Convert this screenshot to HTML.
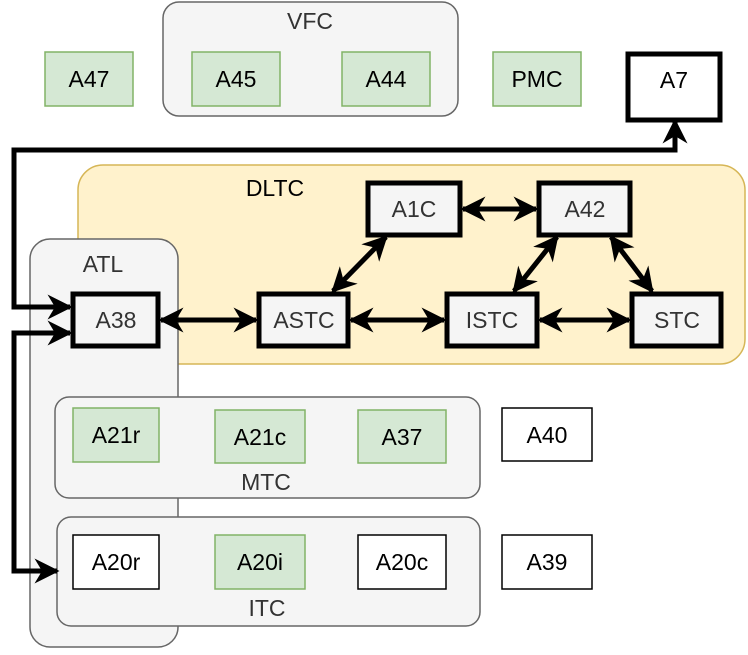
<!DOCTYPE html>
<html><head><style>body{margin:0;background:#fff}svg{display:block}text{font-family:"Liberation Sans",sans-serif;font-size:23px;text-anchor:middle;dominant-baseline:central}</style></head>
<body>
<svg width="748" height="655" viewBox="0 0 748 655">
<defs>
<marker id="a" viewBox="0 0 10 10" refX="9" refY="5" markerWidth="5" markerHeight="5" orient="auto-start-reverse" markerUnits="strokeWidth"><path d="M0,0 L10,5 L0,10 L3,5 Z" fill="#000"/></marker>
</defs>
<rect x="163" y="2" width="295" height="114" rx="16" fill="#f5f5f5" stroke="#666" stroke-width="1.5"/>
<text x="310" y="21" fill="#333">VFC</text>
<rect x="78" y="165" width="667" height="199" rx="25" fill="#fff2cc" stroke="#d6b656" stroke-width="1.5"/>
<text x="275" y="188" fill="#000">DLTC</text>
<rect x="30" y="239" width="148" height="408" rx="20" fill="#f5f5f5" stroke="#666" stroke-width="1.5"/>
<text x="103" y="264" fill="#333">ATL</text>
<rect x="55" y="397" width="425" height="101" rx="14" fill="#f5f5f5" stroke="#666" stroke-width="1.5"/>
<text x="266" y="482" fill="#333">MTC</text>
<rect x="57" y="517" width="423" height="109" rx="14" fill="#f5f5f5" stroke="#666" stroke-width="1.5"/>
<text x="267" y="608" fill="#333">ITC</text>
<g fill="#d5e8d4" stroke="#82b366" stroke-width="1.5">
<rect x="45" y="52" width="88" height="54"/><rect x="192" y="52" width="88" height="54"/><rect x="342" y="52" width="88" height="54"/><rect x="493" y="52" width="88" height="54"/>
<rect x="73" y="408" width="86" height="54"/><rect x="215" y="410" width="90" height="53"/><rect x="358" y="410" width="88" height="53"/>
<rect x="215" y="535" width="90" height="54"/>
</g>
<g fill="#fff" stroke="#000" stroke-width="1.5">
<rect x="502" y="408" width="90" height="53"/><rect x="73" y="535" width="86" height="54"/><rect x="358" y="535" width="88" height="54"/><rect x="502" y="535" width="90" height="54"/>
</g>
<g fill="#f5f5f5" stroke="#000" stroke-width="5">
<rect x="628" y="54" width="92" height="66" fill="#fff"/>
<rect x="73" y="294" width="85" height="52"/><rect x="259" y="294" width="89" height="52"/>
<rect x="368" y="183" width="92" height="52"/><rect x="539" y="183" width="91" height="52"/>
<rect x="447" y="294" width="90" height="52"/><rect x="632" y="294" width="89" height="52"/>
</g>
<g fill="#000">
<text x="89" y="79">A47</text><text x="236" y="79">A45</text><text x="386" y="79">A44</text><text x="537" y="79">PMC</text>
<text x="674" y="80">A7</text>
<text x="116" y="435">A21r</text><text x="260" y="437">A21c</text><text x="402" y="437">A37</text><text x="547" y="435">A40</text>
<text x="116" y="562">A20r</text><text x="260" y="562">A20i</text><text x="402" y="562">A20c</text><text x="547" y="562">A39</text>
</g>
<g fill="#333">
<text x="116" y="320">A38</text><text x="304" y="320">ASTC</text><text x="414" y="209">A1C</text><text x="585" y="209">A42</text><text x="492" y="320">ISTC</text><text x="677" y="320">STC</text>
</g>
<g stroke="#000" stroke-width="5" fill="none" stroke-linejoin="miter">
<path d="M675,121 V150 H14 V307 H70" marker-start="url(#a)" marker-end="url(#a)"/>
<path d="M57,571 H14 V333 H70" marker-start="url(#a)" marker-end="url(#a)"/>
<path d="M161,320 H256" marker-start="url(#a)" marker-end="url(#a)"/>
<path d="M351,320 H444" marker-start="url(#a)" marker-end="url(#a)"/>
<path d="M540,320 H629" marker-start="url(#a)" marker-end="url(#a)"/>
<path d="M463,209 H536" marker-start="url(#a)" marker-end="url(#a)"/>
<path d="M333,291 L386,237" marker-start="url(#a)" marker-end="url(#a)"/>
<path d="M557,237 L514,291" marker-start="url(#a)" marker-end="url(#a)"/>
<path d="M611,237 L652,291" marker-start="url(#a)" marker-end="url(#a)"/>
</g>
</svg>
</body></html>
